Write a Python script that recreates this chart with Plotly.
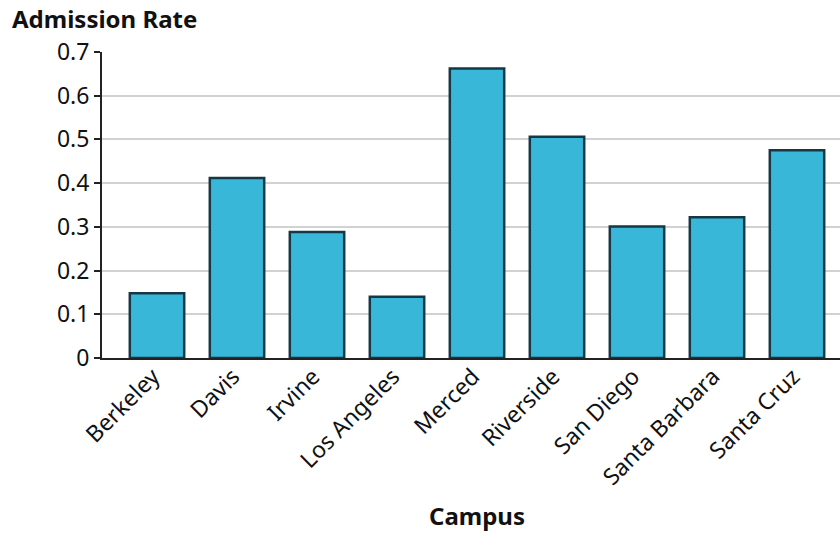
import plotly.graph_objects as go

campuses = ["Berkeley", "Davis", "Irvine", "Los Angeles", "Merced",
            "Riverside", "San Diego", "Santa Barbara", "Santa Cruz"]
admission_rate = [0.148, 0.412, 0.288, 0.140, 0.662, 0.506, 0.301, 0.322, 0.475]
y_ticks = [0, 0.1, 0.2, 0.3, 0.4, 0.5, 0.6, 0.7]
y_tick_labels = ["0", "0.1", "0.2", "0.3", "0.4", "0.5", "0.6", "0.7"]

font_family = "Noto Sans, Open Sans, sans-serif"

fig = go.Figure(go.Bar(
    x=campuses, y=admission_rate,
    marker=dict(color="#38B7D8", line=dict(color="#163845", width=2.5)),
    width=0.68,
))

fig.update_layout(
    width=840, height=533,
    margin=dict(l=102, r=0, t=52, b=175),
    plot_bgcolor="white", paper_bgcolor="white",
    showlegend=False,
    font=dict(family=font_family, size=22, color="#111"),
)
fig.update_xaxes(
    range=[-0.6875, 8.5375],
    tickangle=-45,
    showline=True, linecolor="#222", linewidth=2,
    showgrid=False, ticks="",
    tickfont=dict(size=23),
    ticklabelstandoff=-6,
    ticklabelshift=-4,
)
fig.update_yaxes(
    range=[0, 0.7],
    tickvals=y_ticks, ticktext=y_tick_labels,
    showline=True, linecolor="#222", linewidth=2,
    ticks="outside", ticklen=6, tickcolor="#222", tickwidth=1.5,
    showgrid=True, gridcolor="#d2d2d2", gridwidth=1.5,
    zeroline=False,
    tickfont=dict(size=23),
)
fig.add_annotation(
    text="<b>Admission Rate</b>", xref="paper", yref="paper",
    x=-0.1247, y=1.0, yshift=34, xanchor="left", yanchor="middle",
    showarrow=False, font=dict(size=24, family=font_family, color="#111"),
)
fig.add_annotation(
    text="<b>Campus</b>", xref="paper", yref="paper",
    x=0.508, y=0.0, yshift=-157, xanchor="center", yanchor="middle",
    showarrow=False, font=dict(size=24, family=font_family, color="#111"),
)
fig.write_html("out.html", config={"displayModeBar": False},
               post_script="document.body.style.margin='0';")
